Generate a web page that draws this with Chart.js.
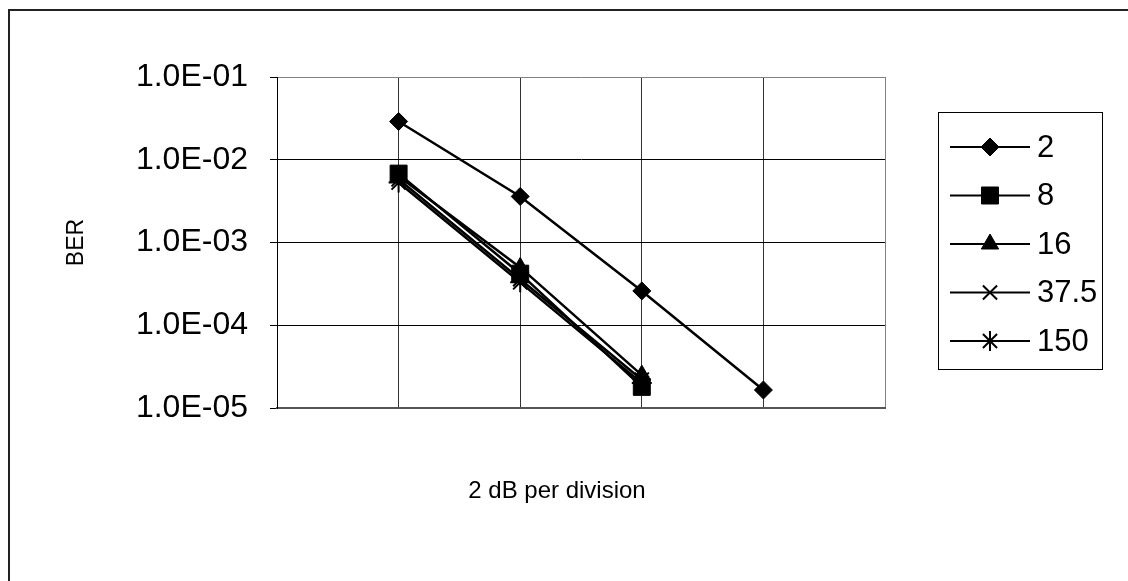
<!DOCTYPE html>
<html><head><meta charset="utf-8">
<script src="https://cdn.jsdelivr.net/npm/chart.js@4.4.1/dist/chart.umd.min.js"></script>
<style>
html,body{margin:0;padding:0;background:#fff;}
#wrap{position:relative;width:1128px;height:581px;overflow:hidden;}
#frame{position:absolute;left:8px;top:9px;right:-4px;bottom:-4px;border-top:2px solid #222;border-left:2px solid #222;pointer-events:none;}
canvas{position:absolute;left:0;top:0;}
</style></head><body>
<div id="wrap"><canvas id="c" width="1128" height="581"></canvas><div id="frame"></div></div>
<script>
// x positions in divisions (2 dB each)
const xDiv = [1, 2, 3, 4];
const seriesNames = ['2', '8', '16', '37.5', '150'];
const ber2   = [2.9e-2, 3.6e-3, 2.6e-4, 1.65e-5];
const ber8   = [6.8e-3, 4.2e-4, 1.8e-5];
const ber16  = [6.3e-3, 5.0e-4, 2.5e-5];
const ber37  = [5.8e-3, 3.6e-4, 2.2e-5];
const ber150 = [5.3e-3, 3.3e-4, 2.0e-5];
const yTicks = [1e-5, 1e-4, 1e-3, 1e-2, 1e-1];
const yTickLabels = ['1.0E-05', '1.0E-04', '1.0E-03', '1.0E-02', '1.0E-01'];
const xTitle = '2 dB per division';

const FONT = '"Liberation Sans", Arial, sans-serif';
const pts = (vals)=> vals.map((v,i)=>({x: xDiv[i], y: v}));

const styles = [
  {pointStyle:'rectRot', pointRadius:9, pointBorderWidth:1},
  {pointStyle:'rect', pointRadius:12, pointBorderWidth:1},
  {pointStyle:'triangle', pointRadius:10, pointBorderWidth:1},
  {pointStyle:'crossRot', pointRadius:10, pointBorderWidth:2},
  {pointStyle:'star', pointRadius:10, pointBorderWidth:2},
];
const allVals = [ber2, ber8, ber16, ber37, ber150];

const datasets = allVals.map((vals,i)=>({
  label: seriesNames[i],
  data: pts(vals),
  showLine: true,
  borderColor: '#000',
  backgroundColor: '#000',
  borderWidth: 2.5,
  pointBackgroundColor: '#000',
  pointBorderColor: '#000',
  ...styles[i]
}));

// legend drawn as a boxed list, line through marker like the original
const boxLegend = {
  id: 'boxLegend',
  afterDraw(chart){
    const ctx = chart.ctx;
    ctx.save();
    ctx.strokeStyle = '#000';
    ctx.lineWidth = 1;
    ctx.strokeRect(938.5, 112.5, 164, 257);
    chart.data.datasets.forEach((ds,i)=>{
      const y = 147 + i*48.5;
      ctx.strokeStyle = '#000'; ctx.fillStyle = '#000';
      ctx.lineWidth = 2;
      ctx.beginPath(); ctx.moveTo(950, y); ctx.lineTo(1030, y); ctx.stroke();
      ctx.lineWidth = ds.pointBorderWidth;
      Chart.helpers.drawPoint(ctx, {pointStyle: ds.pointStyle, radius: ds.pointRadius, borderWidth: ds.pointBorderWidth, rotation: 0}, 990, y);
      ctx.font = '31px ' + FONT;
      ctx.textAlign = 'left'; ctx.textBaseline = 'middle';
      ctx.fillText(ds.label, 1037, y + 1);
    });
    // x axis title, placed as in the original (slightly left of plot centre)
    ctx.font = '24px ' + FONT;
    ctx.textAlign = 'center';
    ctx.fillText(xTitle, 557, 491);
    ctx.restore();
  }
};

new Chart(document.getElementById('c'), {
  type: 'scatter',
  data: { datasets },
  plugins: [boxLegend],
  options: {
    responsive: false,
    animation: false,
    events: [],
    layout: { padding: { left: 57, top: 77, right: 243, bottom: 68 } },
    plugins: { legend: {display:false}, tooltip: {enabled:false} },
    scales: {
      x: {
        type: 'linear', min: 0, max: 5,
        ticks: { display: false, stepSize: 1 },
        grid: { color: (c)=> c.tick && c.tick.value===5 ? '#808080' : '#333', lineWidth: 1, drawTicks: false },
        border: { color: '#555', width: 2 },
        afterFit: (s)=>{ s.height = 105; }
      },
      y: {
        type: 'logarithmic', min: 1e-5, max: 1e-1,
        afterBuildTicks: (s)=>{ s.ticks = yTicks.map(v=>({value:v})); },
        ticks: {
          color: '#000', padding: 22, font: {family: FONT, size: 32},
          callback: (v)=> yTickLabels[yTicks.indexOf(v)] ?? ''
        },
        grid: { color: (c)=> c.tick && c.tick.value===1e-1 ? '#808080' : '#000', tickColor: '#000', tickLength: 7, lineWidth: 1 },
        border: { color: '#000', width: 1 },
        title: { display: true, text: 'BER', color: '#000', font: {family: FONT, size: 23}, padding: {top:6, bottom:4} },
        afterFit: (s)=>{ s.width = 220; }
      }
    }
  }
});
</script>
</body></html>
